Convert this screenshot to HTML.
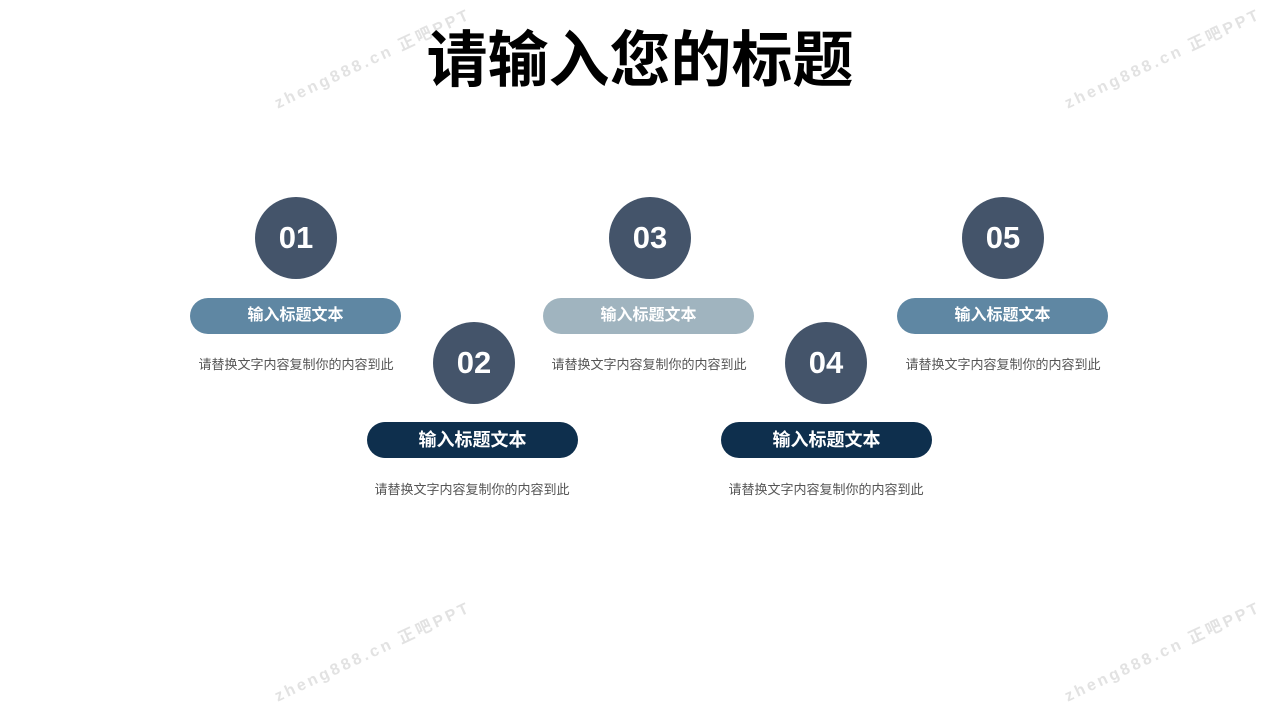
<!DOCTYPE html>
<html><head><meta charset="utf-8"><style>
body{margin:0;width:1280px;height:720px;background:#fff;position:relative;overflow:hidden;font-family:"Liberation Sans","Noto Sans CJK SC",sans-serif}
.t{position:absolute;left:0;width:1280px;text-align:center;top:24px;font-size:61px;font-weight:bold;color:#000;line-height:72px;letter-spacing:0}
.c{position:absolute;width:82px;height:82px;border-radius:50%;background:#44546a;color:#fff;font-size:31px;font-weight:bold;text-align:center;line-height:82px}
.p{position:absolute;width:211px;height:36px;border-radius:18px;color:#fff;font-size:16px;font-weight:bold;text-align:center;line-height:36px}
.d{position:absolute;width:260px;text-align:center;font-size:13px;color:#555;line-height:16px}
.w{position:absolute;width:240px;text-align:center;font-size:16px;letter-spacing:3px;color:#e2e2e2;transform:rotate(-25deg);font-weight:bold}
</style></head><body>
<div class="w" style="left:252px;top:45px">zheng888.cn 正吧PPT</div>
<div class="w" style="left:1042px;top:45px">zheng888.cn 正吧PPT</div>
<div class="w" style="left:252px;top:638px">zheng888.cn 正吧PPT</div>
<div class="w" style="left:1042px;top:638px">zheng888.cn 正吧PPT</div>
<div class="t">请输入您的标题</div>

<div class="c" style="left:255px;top:197px">01</div>
<div class="c" style="left:609px;top:197px">03</div>
<div class="c" style="left:962px;top:197px">05</div>
<div class="c" style="left:433px;top:322px">02</div>
<div class="c" style="left:785px;top:322px">04</div>

<div class="p" style="left:190px;top:298px;background:#5f87a3">输入标题文本</div>
<div class="p" style="left:543px;top:298px;background:#a0b4bf">输入标题文本</div>
<div class="p" style="left:897px;top:298px;background:#5f87a3">输入标题文本</div>
<div class="p" style="left:367px;top:422px;background:#0e2f4d;font-size:18px">输入标题文本</div>
<div class="p" style="left:721px;top:422px;background:#0e2f4d;font-size:18px">输入标题文本</div>

<div class="d" style="left:166px;top:357px">请替换文字内容复制你的内容到此</div>
<div class="d" style="left:519px;top:357px">请替换文字内容复制你的内容到此</div>
<div class="d" style="left:873px;top:357px">请替换文字内容复制你的内容到此</div>
<div class="d" style="left:342px;top:482px">请替换文字内容复制你的内容到此</div>
<div class="d" style="left:696px;top:482px">请替换文字内容复制你的内容到此</div>
</body></html>
